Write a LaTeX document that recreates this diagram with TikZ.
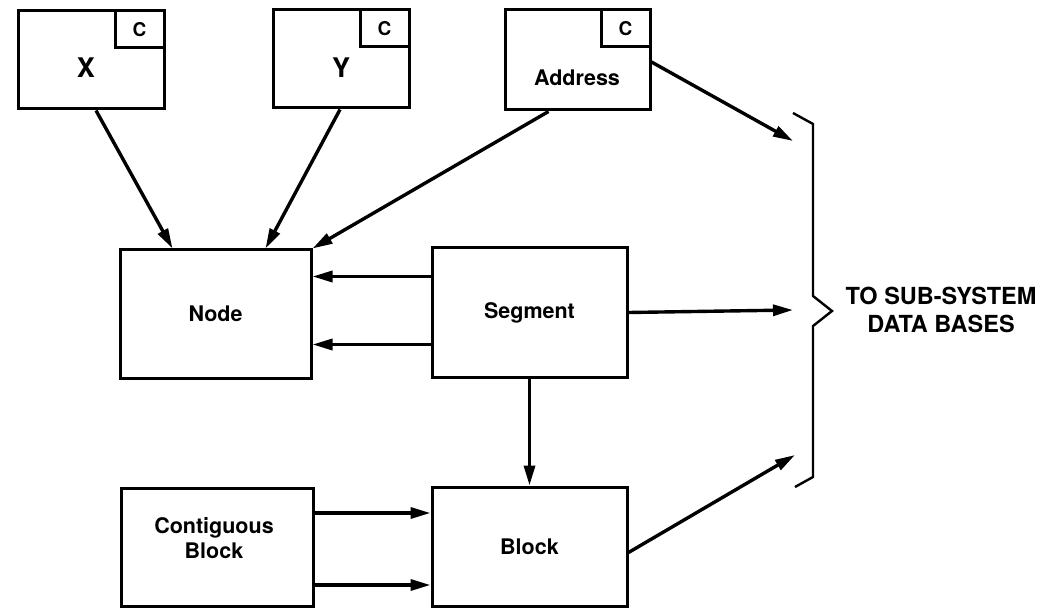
\documentclass[tikz,border=0pt]{standalone}
\usepackage{fontspec}
\setmainfont{TeX Gyre Heros}
\usetikzlibrary{positioning,shapes,arrows.meta}

\begin{document}
\begin{tikzpicture}[x=1pt, y=-1pt, line width=3pt,
    box/.style={rectangle, draw, inner sep=0pt, align=center, font=\bfseries\fontsize{21.5}{25}\selectfont},
    cbox/.style={rectangle, draw, inner sep=0pt, minimum width=49pt, minimum height=37pt, anchor=north east, font=\bfseries\fontsize{19}{22}\selectfont},
    lbl/.style={inner sep=0pt, font=\bfseries\fontsize{21.5}{25}\selectfont},
    link/.style={-{Triangle[length=20pt,width=11pt]}, line width=3.4pt}]
        \useasboundingbox (0,0) rectangle (1046,609);

        % Fichiers du haut
        \node[box, minimum width=146pt, minimum height=98pt] (x) at (91,60) {};
        \node[cbox] (xc) at (x.north east) {C};
        \node[lbl, font=\bfseries\fontsize{27}{30}\selectfont] (xlbl) at (86,68) {X};

        \node[box, minimum width=136pt, minimum height=98pt] (y) at (341,59) {};
        \node[cbox] (yc) at (y.north east) {C};
        \node[lbl, font=\bfseries\fontsize{27}{30}\selectfont] (ylbl) at (341,68) {Y};

        \node[box, minimum width=145pt, minimum height=100pt] (addr) at (577.5,60) {};
        \node[cbox] (addrc) at (addr.north east) {C};
        \node[lbl] (addrlbl) at (577,78) {Address};

        % Blocs du milieu et du bas
        \node[box, minimum width=191pt, minimum height=128pt] (node) at (215.5,314) {Node};
        \node[box, minimum width=195pt, minimum height=129pt] (seg) at (529.5,312.5) {Segment};
        \node[box, minimum width=192pt, minimum height=118pt] (contig) at (217,547) {};
        \node[lbl, align=center] (contiglbl) at (214,538) {Contiguous\\Block};
        \node[box, minimum width=195pt, minimum height=119pt] (blk) at (529.5,546.5) {Block};

        % Extremites libres vers l'accolade
        \coordinate (toaddr) at (793,141);
        \coordinate (toseg) at (793,310);
        \coordinate (toblk) at (795,455);

        % Fleches
        \draw[link] ([xshift=5pt]x.south) -- ([xshift=-43pt]node.north);
        \draw[link] ([xshift=-1pt]y.south) -- ([xshift=50pt]node.north);
        \draw[link] ([xshift=-29pt]addr.south) -- (node.north east);
        \draw[link] ([yshift=36pt]seg.west) -- ([yshift=36pt]seg.west -| node.east);
        \draw[link] ([yshift=-32pt]seg.west) -- ([yshift=-32pt]seg.west -| node.east);
        \draw[link] (seg.south) -- (blk.north);
        \draw[link] ([yshift=34pt]contig.east) -- ([yshift=34pt]contig.east -| blk.west);
        \draw[link] ([yshift=-38pt]contig.east) -- ([yshift=-38pt]contig.east -| blk.west);
        \draw[link] ([yshift=-2pt]addr.east) -- (toaddr);
        \draw[link] (seg.east) -- (toseg);
        \draw[link] ([yshift=-6pt]blk.east) -- (toblk);

        % Accolade
        \draw[line width=2.4pt] (793,113) -- (813,124) -- (813,296) -- (832,311) -- (813,326) -- (813,477) -- (795,487);
        \node[align=center, inner sep=0pt, font=\bfseries\fontsize{23.5}{28}\selectfont] (dest) at (941,310) {TO SUB-SYSTEM\\DATA BASES};
    \end{tikzpicture}
\end{document}
